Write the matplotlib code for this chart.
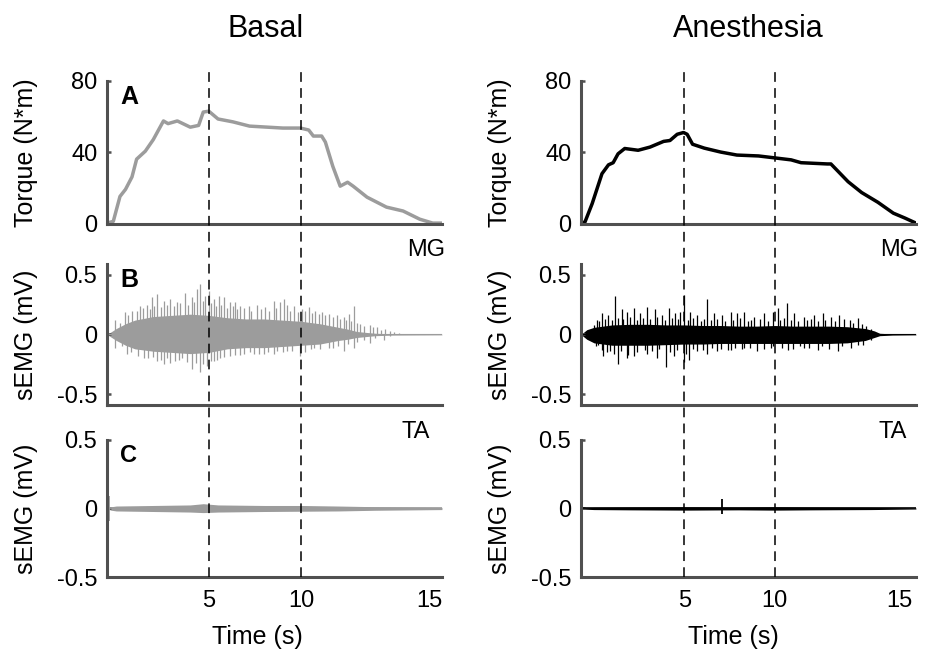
import matplotlib
matplotlib.use('Agg')
import matplotlib.pyplot as plt
import matplotlib.transforms as mtransforms
from matplotlib.lines import Line2D

plt.rcParams['font.family'] = ['Liberation Sans', 'DejaVu Sans']
plt.rcParams['lines.scale_dashes'] = False

GRAY = '#9c9c9c'
SPINE = '#505050'

# ---- torque (N*m) ----
t_torque_basal = [-0.5, -0.16, 0.2, 0.5, 0.85, 1.1, 1.57, 2.0, 2.55, 2.8, 3.3, 4.0, 4.45, 4.7,
                  5.0, 5.5, 6.3, 7.2, 9.0, 9.95, 10.4, 10.65, 11.1, 11.3, 11.7, 12.1, 12.5,
                  12.8, 13.55, 14.6, 15.5, 16.4, 17.1, 17.6]
torque_basal = [0, 1, 15, 19, 26, 36, 40.5, 47, 57.5, 56, 57.5, 54, 55, 62.5,
                63, 58.6, 57, 54.6, 53.5, 53.5, 52.4, 49, 49, 45.6, 32, 20.8, 23,
                20.8, 14.6, 9, 6.8, 2.2, 0, 0]

t_torque_anest = [-0.72, -0.5, -0.1, 0.44, 0.8, 1.06, 1.33, 1.7, 2.44, 3.1, 3.85, 4.2, 4.6,
                  4.95, 5.15, 5.45, 6.1, 7.0, 7.9, 9.1, 10.0, 10.9, 11.45, 12.9, 13.1, 14.05,
                  14.8, 15.7, 16.55, 17.2, 17.8]
torque_anest = [0, 0.6, 11, 27.8, 32.8, 34, 39, 42, 41, 42.8, 46, 46.5, 50,
                51, 50, 44.4, 42.2, 40, 38.3, 37.8, 36.7, 35.6, 34, 33.3, 33.3, 23.3,
                17.2, 11.7, 5.6, 2.8, 0]

# ---- MG sEMG (mV): dense core envelope + spikes (large and medium) ----
t_mg_basal_env = [-0.5, 0, 0.5, 1, 2, 3, 4, 5, 6, 7, 8, 9, 10, 11, 12, 12.5, 13, 14, 15, 17.6]
mg_basal_hi = [0, 0.05, 0.09, 0.12, 0.15, 0.16, 0.17, 0.16, 0.14, 0.13, 0.13, 0.12, 0.11, 0.09,
               0.06, 0.045, 0.025, 0.01, 0.005, 0.003]
mg_basal_lo = [0, -0.05, -0.09, -0.12, -0.14, -0.15, -0.16, -0.15, -0.12, -0.11, -0.11, -0.1,
               -0.09, -0.08, -0.05, -0.04, -0.025, -0.01, -0.005, -0.003]
t_mg_basal_up = [-0.05, 0.49, 0.85, 1.3, 1.66, 1.93, 2.2, 2.56, 2.92, 3.28, 3.73, 4.09, 4.36,
                 4.54, 4.81, 4.99, 5.26, 5.53, 5.8, 6.16, 6.43, 6.7, 7.15, 7.6, 8.05, 8.5,
                 8.86, 9.05, 9.23, 9.6, 10.04, 10.4, 10.76, 11.12, 11.48, 11.93, 12.29,
                 12.56, 12.83, 13.19, 13.73, 14.09, 14.54, 14.99]
mg_basal_up = [0.12, 0.19, 0.2, 0.24, 0.25, 0.31, 0.34, 0.28, 0.3, 0.27, 0.35, 0.31, 0.38,
               0.42, 0.32, 0.36, 0.3, 0.32, 0.31, 0.27, 0.27, 0.24, 0.24, 0.25, 0.23, 0.28,
               0.27, 0.3, 0.25, 0.24, 0.21, 0.23, 0.2, 0.19, 0.17, 0.16, 0.15,
               0.17, 0.24, 0.09, 0.08, 0.06, 0.05, 0.02]
t_mg_basal_dn = [-0.05, 0.58, 1.48, 2.2, 2.56, 2.92, 3.55, 4.09, 4.54, 4.9, 5.26, 5.62, 6.16,
                 6.7, 7.42, 7.96, 8.5, 9.23, 9.95, 10.66, 11.48, 12.29, 12.83, 13.73, 14.45]
mg_basal_dn = [-0.11, -0.16, -0.2, -0.22, -0.25, -0.24, -0.2, -0.29, -0.31, -0.26, -0.22,
               -0.2, -0.18, -0.17, -0.16, -0.16, -0.16, -0.14, -0.18, -0.11, -0.11, -0.14,
               -0.11, -0.07, -0.05]
t_mg_basal_mup = [0.2, 0.65, 1.1, 1.45, 1.8, 2.05, 2.4, 2.75, 3.1, 3.45, 3.9, 4.2, 4.7, 5.1,
                  5.4, 5.65, 6.0, 6.3, 6.55, 6.9, 7.3, 7.8, 8.25, 8.65, 9.4, 9.8, 10.2, 10.6,
                  10.95, 11.3, 11.7, 12.1, 12.4, 12.7, 13.0, 13.4, 13.9, 14.3, 14.8, 15.3]
mg_basal_mup = [0.1, 0.16, 0.2, 0.22, 0.21, 0.24, 0.23, 0.25, 0.24, 0.26, 0.25, 0.27, 0.28,
                0.26, 0.24, 0.25, 0.22, 0.24, 0.21, 0.22, 0.2, 0.21, 0.2, 0.22, 0.2, 0.19,
                0.2, 0.18, 0.17, 0.16, 0.15, 0.13, 0.12, 0.11, 0.1, 0.07, 0.06, 0.04, 0.03,
                0.015]
t_mg_basal_mdn = [0.3, 0.8, 1.2, 1.7, 2.0, 2.4, 2.75, 3.15, 3.4, 3.8, 4.3, 4.7, 5.1, 5.45,
                  5.8, 6.4, 6.9, 7.2, 7.7, 8.2, 8.7, 9.0, 9.5, 10.2, 10.5, 11.0, 11.7, 12.0,
                  12.5, 13.0, 13.4, 14.0, 14.8]
mg_basal_mdn = [-0.1, -0.15, -0.18, -0.2, -0.19, -0.21, -0.2, -0.22, -0.21, -0.23, -0.24,
                -0.25, -0.22, -0.21, -0.19, -0.17, -0.16, -0.15, -0.16, -0.15, -0.14, -0.15,
                -0.14, -0.15, -0.12, -0.12, -0.11, -0.1, -0.08, -0.06, -0.05, -0.03, -0.015]

t_mg_anest_env = [-0.72, -0.4, 0, 0.5, 1, 2, 3, 4, 5, 6, 7, 8, 9, 10, 11, 12, 13, 14, 15,
                  15.5, 15.8, 16.5, 17.8]
mg_anest_hi = [0, 0.04, 0.06, 0.07, 0.08, 0.085, 0.085, 0.08, 0.08, 0.075, 0.075, 0.07, 0.07,
               0.075, 0.07, 0.07, 0.07, 0.065, 0.05, 0.03, 0.01, 0.005, 0.003]
mg_anest_lo = [0, -0.04, -0.07, -0.08, -0.09, -0.09, -0.09, -0.085, -0.08, -0.08, -0.075,
               -0.075, -0.075, -0.075, -0.075, -0.075, -0.075, -0.07, -0.05, -0.025, -0.01,
               -0.005, -0.003]
t_mg_anest_up = [0.15, 0.43, 0.8, 1.17, 1.54, 1.81, 2.19, 2.56, 2.93, 3.39, 3.76, 4.13, 4.5,
                 4.78, 5.0, 5.33, 5.7, 6.26, 6.63, 7.09, 7.56, 7.93, 8.3, 8.85, 9.41, 9.87,
                 10.15, 10.67, 11.07, 11.63, 12.19, 12.65, 13.11, 13.57, 14.13, 14.59, 15.06]
mg_anest_up = [0.12, 0.18, 0.16, 0.32, 0.21, 0.19, 0.22, 0.18, 0.23, 0.21, 0.16, 0.22, 0.18,
               0.19, 0.33, 0.19, 0.16, 0.3, 0.18, 0.16, 0.19, 0.18, 0.19, 0.15, 0.18, 0.19,
               0.22, 0.26, 0.18, 0.15, 0.16, 0.18, 0.15, 0.16, 0.12, 0.14, 0.07]
t_mg_anest_dn = [0.24, 0.52, 0.89, 1.35, 1.81, 2.19, 2.93, 3.48, 3.98, 4.41, 4.96, 5.24, 5.7,
                 6.26, 6.81, 7.56, 8.3, 9.04, 9.78, 10.7, 11.63, 12.37, 13.48, 14.59]
mg_anest_dn = [-0.09, -0.18, -0.14, -0.25, -0.2, -0.18, -0.16, -0.2, -0.27, -0.18, -0.23,
               -0.21, -0.14, -0.16, -0.14, -0.13, -0.11, -0.14, -0.11, -0.13, -0.11, -0.13,
               -0.14, -0.09]
t_mg_anest_mup = [0.0, 0.3, 0.6, 1.0, 1.3, 1.6, 2.0, 2.35, 2.7, 3.1, 3.5, 3.9, 4.3, 4.65, 5.2,
                  5.5, 5.9, 6.1, 6.45, 6.8, 7.25, 7.7, 8.1, 8.5, 8.7, 9.2, 9.6, 10.3, 10.5,
                  10.9, 11.3, 11.8, 12.0, 12.4, 12.8, 13.3, 13.8, 14.3, 14.8, 15.3]
mg_anest_mup = [0.08, 0.11, 0.13, 0.12, 0.14, 0.13, 0.15, 0.12, 0.14, 0.13, 0.15, 0.12, 0.14,
                0.13, 0.12, 0.14, 0.11, 0.13, 0.12, 0.13, 0.11, 0.12, 0.14, 0.11, 0.12, 0.13,
                0.11, 0.12, 0.14, 0.12, 0.11, 0.12, 0.13, 0.11, 0.12, 0.11, 0.13, 0.1, 0.09,
                0.05]
t_mg_anest_mdn = [0.1, 0.45, 0.7, 1.1, 1.5, 1.9, 2.4, 2.8, 3.2, 3.6, 4.2, 4.6, 5.1, 5.45, 6.0,
                  6.5, 7.0, 7.4, 7.8, 8.2, 8.6, 9.4, 9.9, 10.4, 11.0, 11.4, 11.9, 12.6, 13.0,
                  13.7, 14.2, 14.9, 15.3]
mg_anest_mdn = [-0.1, -0.13, -0.15, -0.16, -0.14, -0.17, -0.15, -0.13, -0.14, -0.12, -0.15,
                -0.13, -0.16, -0.12, -0.13, -0.11, -0.12, -0.13, -0.11, -0.12, -0.11, -0.12,
                -0.1, -0.11, -0.12, -0.1, -0.11, -0.1, -0.12, -0.1, -0.11, -0.09, -0.05]

# ---- TA sEMG (mV) ----
t_ta_basal_env = [-0.5, -0.3, 0, 2, 4, 4.7, 5.5, 8, 10, 12, 14, 17.6]
ta_basal_hi = [0.0, 0.012, 0.018, 0.022, 0.026, 0.035, 0.026, 0.022, 0.022, 0.018, 0.013, 0.008]
ta_basal_lo = [0.0, -0.012, -0.018, -0.022, -0.026, -0.03, -0.026, -0.022, -0.02, -0.018,
               -0.013, -0.008]
t_ta_basal_spk = [-0.4]
ta_basal_spk_hi = [0.09]
ta_basal_spk_lo = [-0.09]

t_ta_anest_env = [-0.72, 0, 2, 5, 8, 10, 12, 15.3, 17.8]
ta_anest_hi = [0.004, 0.008, 0.01, 0.012, 0.01, 0.012, 0.01, 0.008, 0.004]
ta_anest_lo = [-0.004, -0.008, -0.01, -0.012, -0.01, -0.012, -0.01, -0.008, -0.004]
t_ta_anest_spk = [7.09]
ta_anest_spk_hi = [0.07]
ta_anest_spk_lo = [-0.04]

columns = [
    dict(title='Basal', color=GRAY, xlim=(-0.5, 17.6), left=0.1147, tx=266,
         torque=(t_torque_basal, torque_basal),
         mg=(t_mg_basal_env, mg_basal_hi, mg_basal_lo),
         mg_spikes=[(t_mg_basal_up, mg_basal_up), (t_mg_basal_dn, mg_basal_dn),
                    (t_mg_basal_mup, mg_basal_mup), (t_mg_basal_mdn, mg_basal_mdn)],
         ta=(t_ta_basal_env, ta_basal_hi, ta_basal_lo, t_ta_basal_spk, ta_basal_spk_hi,
             ta_basal_spk_lo),
         mg_x=445, ta_x=430, xlab=0.448, letters=True),
    dict(title='Anesthesia', color='black', xlim=(-0.72, 17.8), left=0.6227, tx=748,
         torque=(t_torque_anest, torque_anest),
         mg=(t_mg_anest_env, mg_anest_hi, mg_anest_lo),
         mg_spikes=[(t_mg_anest_up, mg_anest_up), (t_mg_anest_dn, mg_anest_dn),
                    (t_mg_anest_mup, mg_anest_mup), (t_mg_anest_mdn, mg_anest_mdn)],
         ta=(t_ta_anest_env, ta_anest_hi, ta_anest_lo, t_ta_anest_spk, ta_anest_spk_hi,
             ta_anest_spk_lo),
         mg_x=918, ta_x=907, xlab=0.455, letters=False),
]

W, H = 933, 650
fig = plt.figure(figsize=(W / 100, H / 100), dpi=100)

rows = [(0.6554, 0.220), (0.3769, 0.217), (0.1123, 0.2108)]


def style(ax, xlim):
    for s in ('top', 'right'):
        ax.spines[s].set_visible(False)
    for s in ('left', 'bottom'):
        ax.spines[s].set_color(SPINE)
        ax.spines[s].set_linewidth(2.2)
    ax.set_xlim(*xlim)
    ax.tick_params(axis='y', direction='in', length=3, width=1.8, color=SPINE,
                   labelsize=17, pad=7)
    ax.tick_params(axis='x', length=0, labelsize=17, pad=9)
    ax.set_xticks([])


for col in columns:
    c = col['color']
    axes = []
    for (b, h) in rows:
        axes.append(fig.add_axes([col['left'], b, 0.359, h]))
    axA, axB, axC = axes

    # torque
    axA.plot(col['torque'][0], col['torque'][1], color=c, lw=2.5, solid_joinstyle='round')
    style(axA, col['xlim'])
    axA.set_ylim(-0.5, 80)
    axA.set_yticks([0, 40, 80])
    axA.set_ylabel('Torque (N*m)', fontsize=18)

    # MG
    te, hi, lo = col['mg']
    axB.fill_between(te, lo, hi, color=c, lw=0)
    for ts, vs in col['mg_spikes']:
        axB.vlines(ts, 0, vs, color=c, lw=0.9)
    axB.plot([te[0], te[-1]], [0, 0], color=c, lw=0.8)
    style(axB, col['xlim'])
    axB.set_ylim(-0.59, 0.59)
    axB.set_yticks([-0.5, 0, 0.5])
    axB.set_yticklabels(['-0.5', '0', '0.5'])
    axB.set_ylabel('sEMG (mV)', fontsize=18)

    # TA
    te, hi, lo, ts, sh, sl = col['ta']
    axC.fill_between(te, lo, hi, color=c, lw=0)
    axC.plot([te[0], te[-1]], [0, 0], color=c, lw=1.2)
    axC.vlines(ts, sl, sh, color=c, lw=1.3)
    style(axC, col['xlim'])
    axC.set_ylim(-0.5, 0.5)
    axC.set_yticks([-0.5, 0, 0.5])
    axC.set_yticklabels(['-0.5', '0', '0.5'])
    axC.set_ylabel('sEMG (mV)', fontsize=18)
    axC.set_xticks([5, 10, 16.9])
    axC.set_xticklabels(['5', '10', '15'])
    axC.set_xlabel('Time (s)', fontsize=18)
    axC.xaxis.set_label_coords(col['xlab'], -0.35)

    for ax in axes:
        ax.yaxis.set_label_coords(-0.205, 0.5)

    # dashed markers through all three panels
    tr = mtransforms.blended_transform_factory(axC.transData, fig.transFigure)
    for x in (5, 10):
        fig.add_artist(Line2D([x, x], [0.1123, 0.889], transform=tr, color='black',
                              lw=1.1, dashes=(7, 4.5)))

    # titles and muscle labels
    fig.text(col['tx'] / W, 1 - 37 / H, col['title'], fontsize=22, ha='center',
             va='baseline')
    fig.text(col['mg_x'] / W, 1 - 256 / H, 'MG', fontsize=17, ha='right', va='baseline')
    fig.text(col['ta_x'] / W, 1 - 438 / H, 'TA', fontsize=17, ha='right', va='baseline')

    if col['letters']:
        for ax, letter, fs in ((axA, 'A', 18), (axB, 'B', 18), (axC, 'C', 17)):
            ax.text(0.04, 0.97, letter, transform=ax.transAxes, fontsize=fs,
                    fontweight='bold', va='top', ha='left')

fig.savefig('out.png', dpi=100, facecolor='white')
